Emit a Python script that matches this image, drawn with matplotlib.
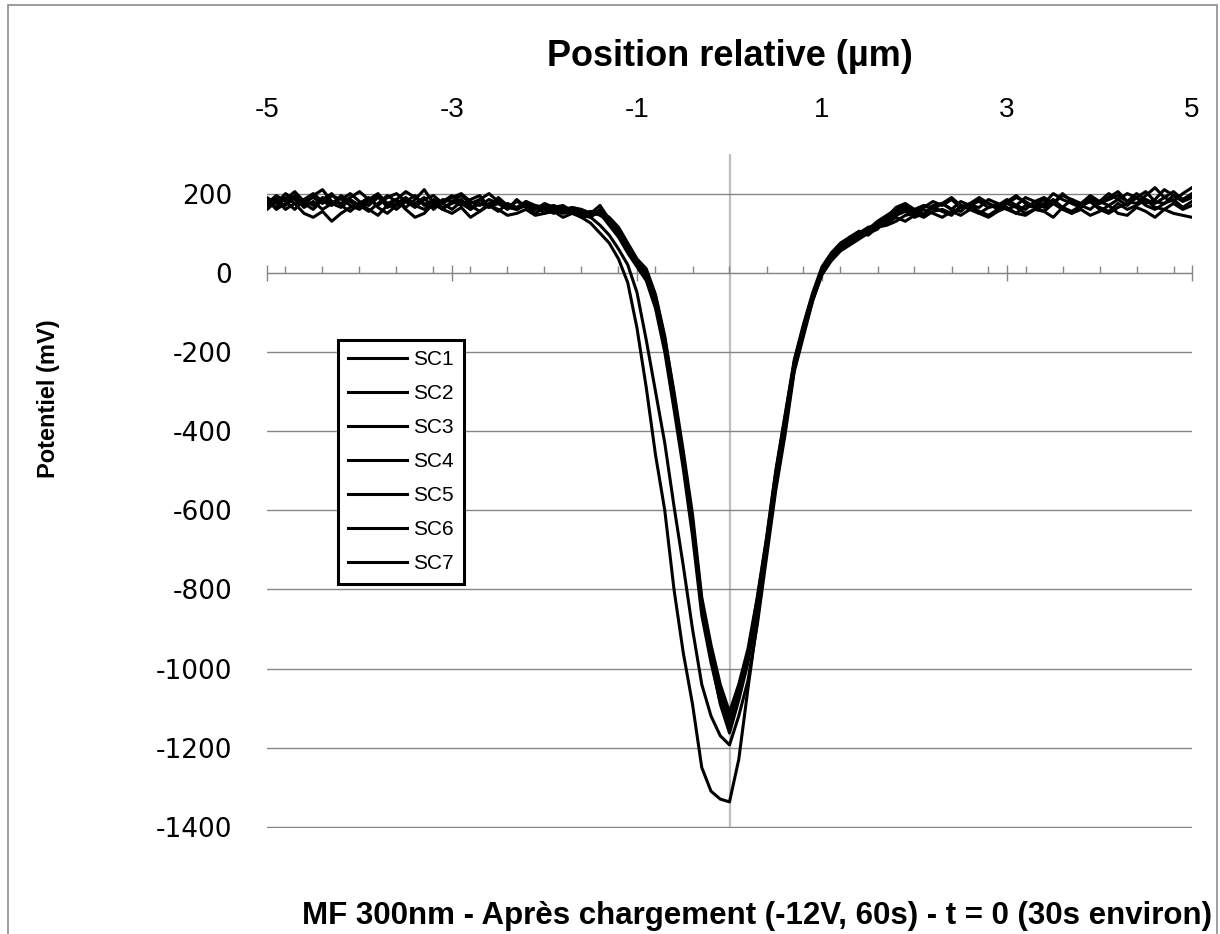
import matplotlib
matplotlib.use('Agg')
import matplotlib.pyplot as plt
import numpy as np
from matplotlib.patches import Rectangle
from matplotlib.ticker import MultipleLocator

# sampling grid (um), shared by all scans
x = np.round(np.arange(-50, 51) / 10.0, 1)

labels = ['SC1', 'SC2', 'SC3', 'SC4', 'SC5', 'SC6', 'SC7']
y_ticks = [-1400, -1200, -1000, -800, -600, -400, -200, 0, 200]
x_ticks = [-5, -3, -1, 1, 3, 5]

# left plateau x = -5.0 .. -1.7
left = [
    [170, 185, 160, 175, 150, 140, 155, 130, 150, 165, 175, 160, 145, 170, 185, 160, 140,
     150, 175, 160, 150, 165, 140, 155, 170, 160, 145, 150, 160, 145, 150, 155, 140, 150],
    [180, 165, 190, 175, 185, 200, 180, 170, 195, 180, 165, 185, 200, 175, 160, 180, 195,
     170, 185, 175, 160, 180, 170, 155, 175, 185, 165, 160, 170, 150, 165, 155, 160, 150],
    [190, 175, 200, 185, 170, 195, 210, 180, 175, 190, 205, 185, 170, 190, 200, 180, 165,
     185, 195, 175, 190, 200, 180, 170, 185, 175, 165, 180, 170, 160, 175, 165, 155, 160],
    [175, 195, 180, 160, 185, 170, 190, 175, 165, 185, 170, 155, 175, 195, 180, 165, 185,
     210, 175, 160, 180, 170, 185, 195, 165, 175, 160, 185, 165, 170, 150, 165, 170, 155],
    [160, 180, 170, 190, 165, 180, 160, 175, 190, 170, 160, 180, 195, 165, 175, 190, 170,
     160, 180, 165, 175, 185, 160, 175, 165, 190, 170, 160, 175, 165, 160, 150, 165, 160],
    [185, 160, 175, 195, 175, 160, 185, 200, 170, 155, 175, 190, 165, 150, 170, 185, 175,
     190, 160, 180, 195, 175, 160, 185, 170, 155, 175, 165, 180, 160, 170, 160, 150, 155],
    [170, 190, 185, 205, 180, 190, 175, 195, 185, 200, 180, 170, 190, 175, 185, 205, 190,
     175, 165, 185, 180, 195, 175, 185, 200, 180, 170, 160, 180, 170, 165, 170, 160, 165],
]

# dip x = -1.6 .. 1.6
dip = [
    [140, 125, 100, 75, 35, -25, -140, -290, -460, -600, -800, -960, -1090, -1250, -1310,
     -1330, -1337, -1230, -1050, -880, -700, -540, -400, -240, -150, -60, 10, 40, 65, 90,
     100, 95, 115],
    [150, 140, 120, 95, 60, 20, -50, -170, -300, -430, -590, -740, -900, -1040, -1120,
     -1170, -1193, -1120, -1030, -890, -720, -550, -410, -250, -160, -70, 0, 35, 70, 85,
     95, 110, 125],
    [155, 150, 170, 135, 110, 70, 30, 5, -60, -165, -300, -450, -610, -820, -940, -1040,
     -1110, -1040, -950, -820, -670, -500, -360, -220, -130, -50, 15, 50, 75, 90, 105, 100,
     125],
    [145, 140, 160, 125, 95, 55, 20, -10, -80, -190, -330, -480, -650, -850, -960, -1060,
     -1125, -1055, -965, -835, -685, -515, -375, -235, -145, -60, 5, 45, 70, 80, 100, 115,
     120],
    [150, 155, 145, 130, 105, 65, 25, 0, -70, -175, -320, -470, -640, -840, -970, -1070,
     -1140, -1060, -960, -825, -675, -505, -365, -225, -135, -55, 10, 40, 65, 85, 95, 110,
     130],
    [140, 145, 150, 120, 90, 50, 15, -20, -90, -200, -345, -495, -665, -865, -985, -1085,
     -1150, -1070, -975, -840, -690, -520, -380, -240, -150, -65, 0, 35, 60, 75, 90, 105,
     115],
    [160, 150, 155, 140, 115, 75, 35, 10, -55, -160, -310, -460, -625, -830, -975, -1090,
     -1163, -1080, -985, -850, -700, -530, -385, -245, -150, -70, -5, 30, 55, 70, 85, 100,
     110],
]

# right plateau x = 1.7 .. 5.0
right = [
    [120, 130, 145, 150, 140, 155, 160, 150, 165, 170, 155, 145, 160, 175, 165, 150, 160,
     170, 185, 165, 155, 170, 180, 160, 150, 165, 175, 190, 170, 160, 175, 185, 165, 180],
    [140, 155, 160, 150, 170, 165, 175, 160, 180, 170, 165, 185, 175, 160, 170, 190, 180,
     165, 175, 195, 185, 170, 160, 180, 200, 185, 170, 190, 205, 180, 175, 195, 185, 200],
    [135, 150, 165, 160, 145, 170, 175, 160, 155, 175, 180, 165, 170, 185, 170, 160, 180,
     190, 175, 165, 185, 175, 195, 180, 170, 185, 200, 190, 175, 185, 210, 195, 180, 190],
    [125, 140, 130, 145, 160, 150, 140, 155, 145, 160, 150, 140, 155, 165, 150, 145, 160,
     155, 140, 165, 150, 160, 145, 155, 170, 150, 145, 165, 155, 140, 160, 150, 145, 140],
    [145, 160, 170, 155, 165, 180, 170, 185, 165, 175, 190, 175, 165, 180, 195, 175, 170,
     185, 175, 200, 180, 170, 190, 175, 185, 195, 180, 200, 185, 175, 190, 205, 185, 195],
    [130, 145, 155, 140, 150, 165, 155, 145, 170, 160, 150, 165, 175, 160, 150, 170, 165,
     155, 175, 160, 150, 170, 180, 165, 155, 175, 160, 170, 185, 165, 160, 175, 160, 170],
    [140, 165, 175, 160, 170, 160, 175, 190, 170, 165, 185, 175, 160, 175, 190, 180, 165,
     175, 200, 185, 175, 165, 185, 175, 190, 205, 180, 175, 195, 215, 190, 180, 200, 215],
]

plt.rcParams['font.family'] = ['Liberation Sans', 'DejaVu Sans']
plt.rcParams['axes.unicode_minus'] = False

fig = plt.figure(figsize=(12.2, 9.34), dpi=100)
ax = fig.add_axes([267 / 1220, 1 - 828 / 934, (1192 - 267) / 1220, (828 - 154) / 934])

for i in range(7):
    y = np.array(left[i] + dip[i] + right[i])
    ax.plot(x, y, color='black', lw=2.2, label=labels[i], zorder=3, solid_joinstyle='round')

ax.set_xlim(-5, 5)
ax.set_ylim(-1403, 300)

# y axis crosses at x = 0
ax.axvline(0, ymin=3 / 1703, color='#bfbfbf', lw=1.6, zorder=1)

ax.set_yticks(y_ticks)
ax.grid(axis='y', color='#868686', lw=1.0, zorder=0)
ax.tick_params(axis='y', length=0, pad=25, labelsize=19)

ax.set_xticks(x_ticks)
ax.xaxis.set_minor_locator(MultipleLocator(0.4))
ax.spines['bottom'].set_position(('data', 0))
ax.spines['bottom'].set_color('#868686')
for s in ['top', 'right', 'left']:
    ax.spines[s].set_visible(False)
ax.tick_params(axis='x', which='major', direction='inout', length=12, width=1, color='#868686',
               bottom=True, top=False, labelbottom=False, labeltop=True, pad=16, labelsize=20)
ax.tick_params(axis='x', which='minor', direction='in', length=5, width=1, color='#868686',
               bottom=True, top=False)

fig.text(730 / 1220, 1 - 57 / 934, 'Position relative (µm)', ha='center', va='center',
         fontsize=26, fontweight='bold')
fig.text(48 / 1220, 1 - 399 / 934, 'Potentiel (mV)', ha='center', va='center', rotation=90,
         fontsize=17, fontweight='bold')
fig.text(1212 / 1220, 1 - 916 / 934, 'MF 300nm - Après chargement (-12V, 60s) - t = 0 (30s environ)',
         ha='right', va='center', fontsize=22.5, fontweight='bold')

leg = ax.legend(loc='upper left', bbox_to_anchor=(338 / 1220, 1 - 340 / 934),
                bbox_transform=fig.transFigure, borderaxespad=0, fancybox=False,
                fontsize=15, handlelength=2.8, handletextpad=0.3, labelspacing=0.72,
                borderpad=0.5)
leg.get_frame().set_edgecolor('black')
leg.get_frame().set_linewidth(2.2)
leg.get_frame().set_alpha(1)
for h in leg.get_lines():
    h.set_linewidth(2.2)

fig.patches.append(Rectangle((8 / 1220, -0.02), (1217 - 8) / 1220, 1.02 - 5 / 934,
                             transform=fig.transFigure, fill=False, edgecolor='#8c8c8c', lw=1.2))

# value labels on the left use a wider face than the rest
fig.canvas.draw()
for t in ax.get_yticklabels():
    t.set_fontfamily('DejaVu Sans')

fig.savefig('out.png', dpi=100)
